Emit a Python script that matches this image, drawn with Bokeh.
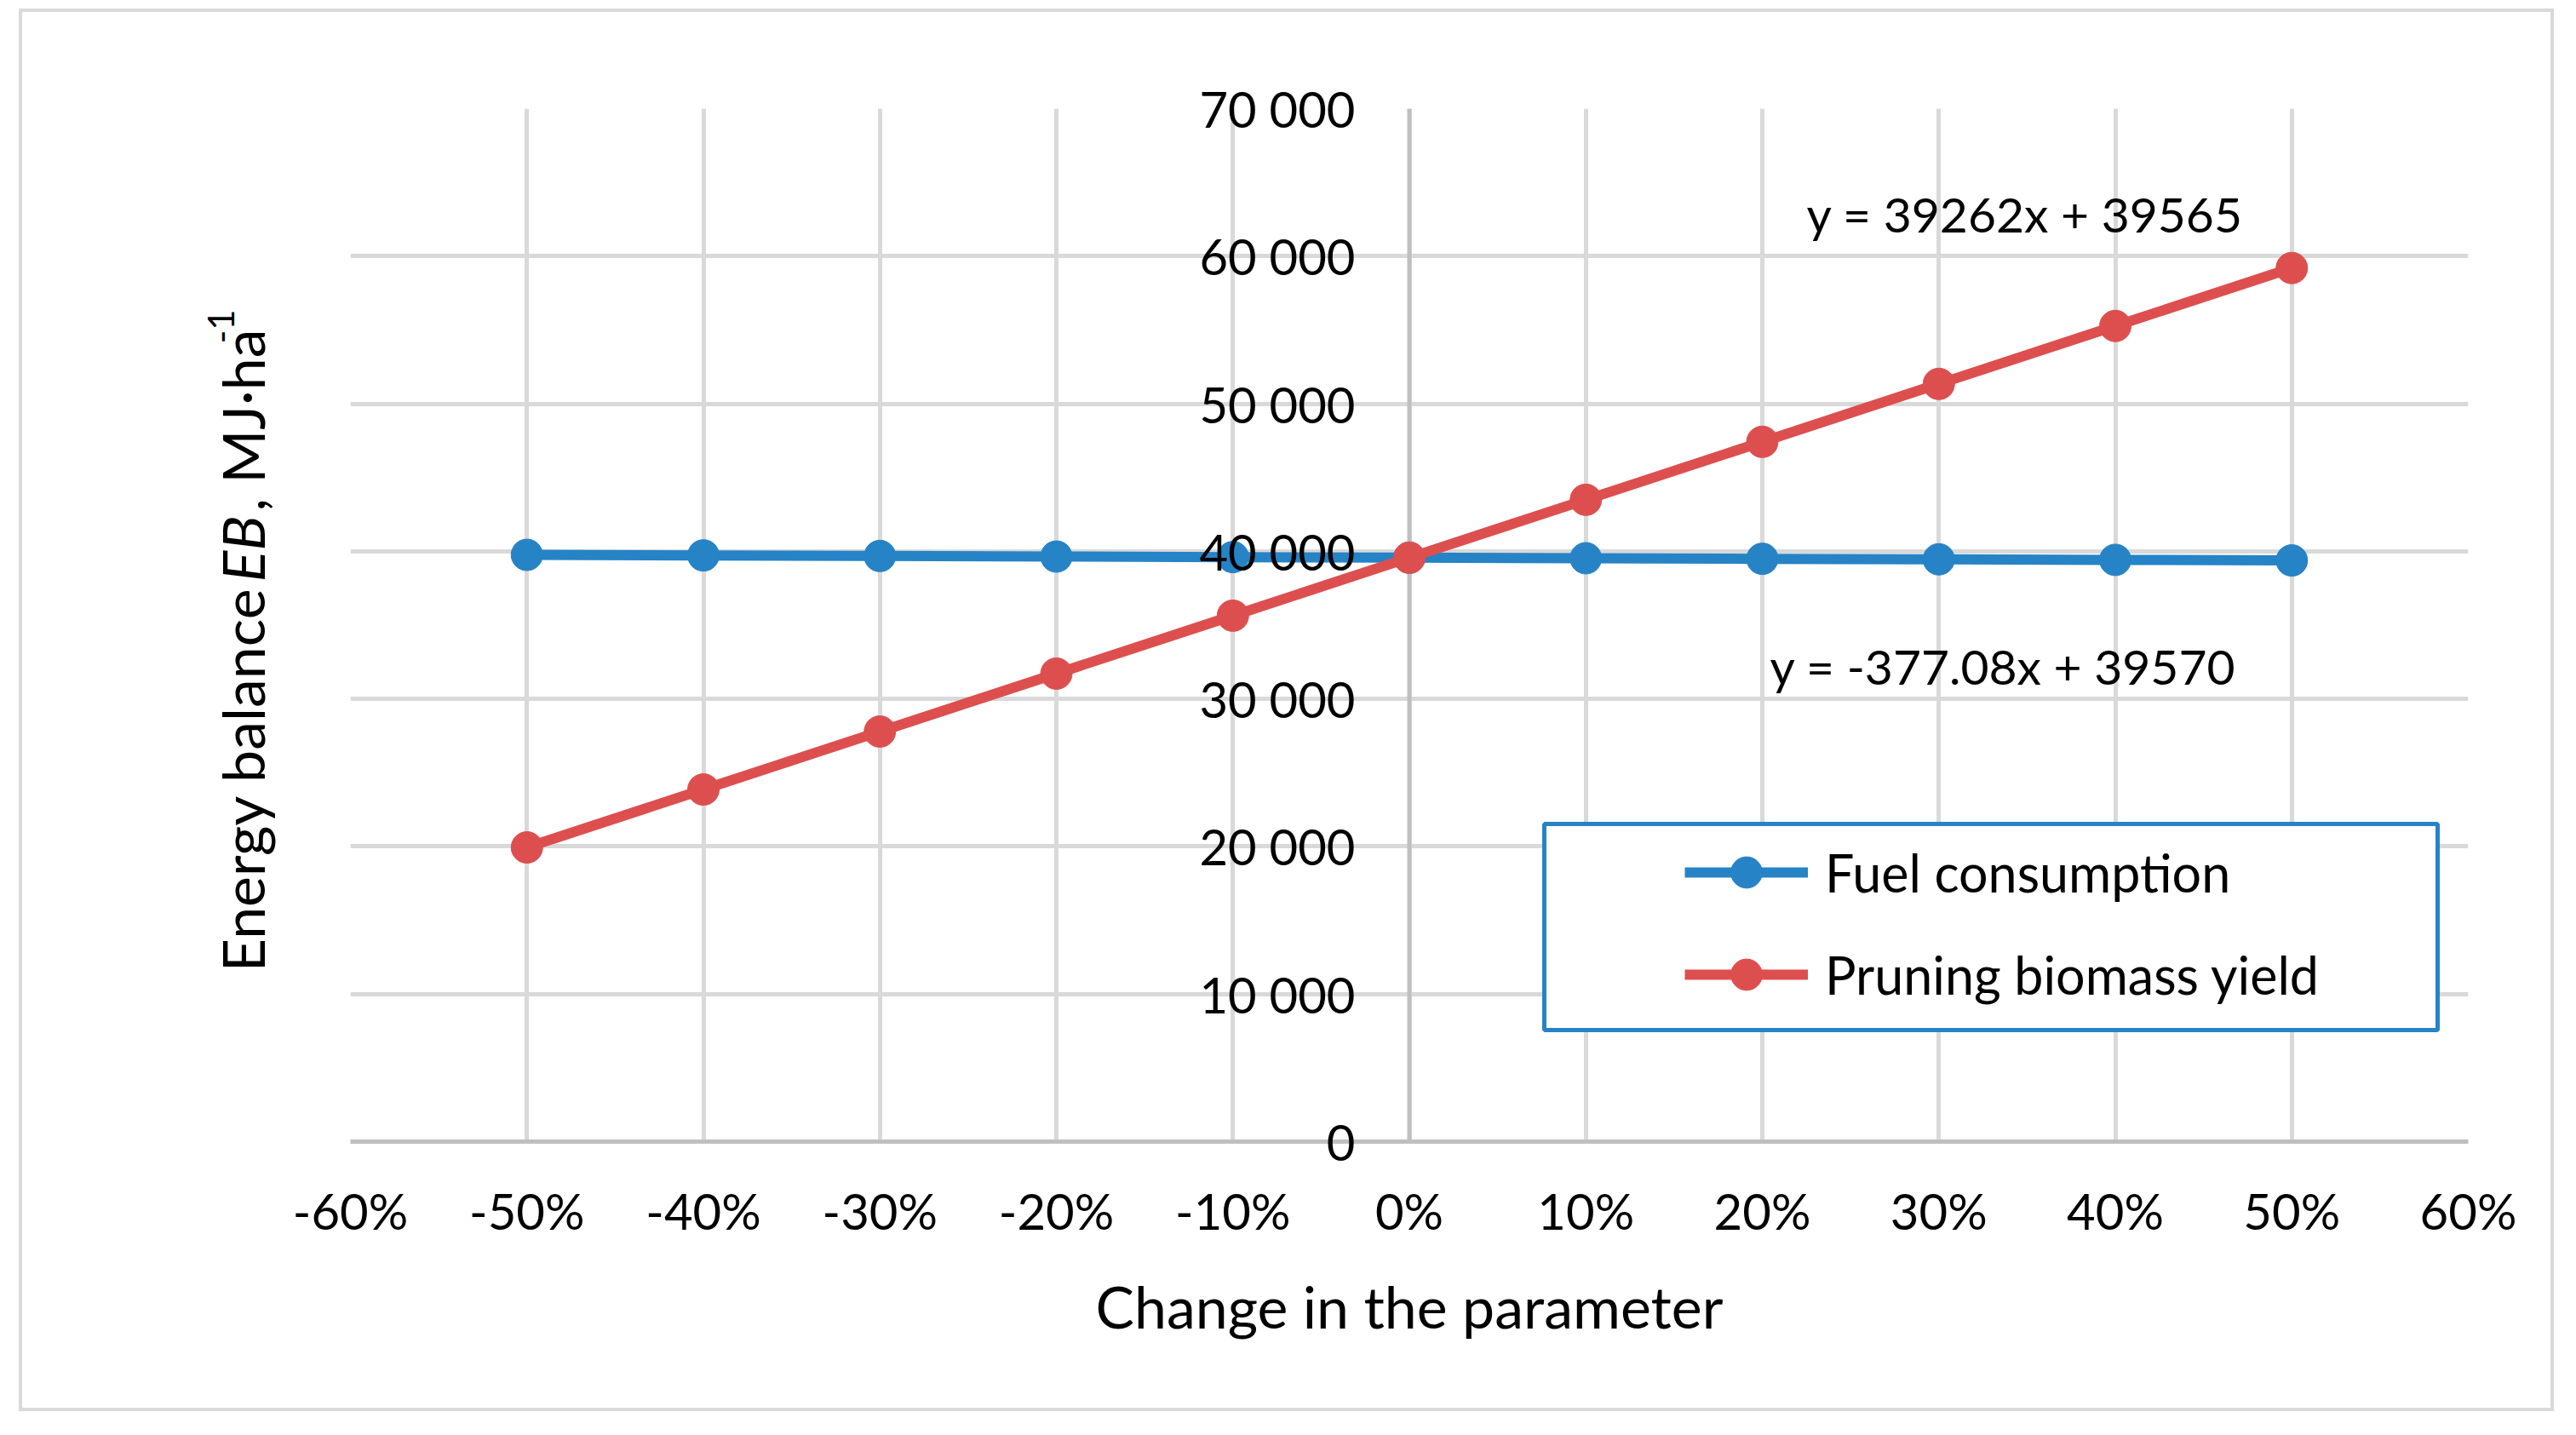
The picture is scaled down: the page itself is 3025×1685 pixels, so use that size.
import math
from bokeh.plotting import figure
from bokeh.models import FixedTicker, Label, BoxAnnotation, Range1d, Span, Spacer
from bokeh.layouts import column, row
from bokeh.embed import file_html
from bokeh.resources import INLINE

# ---------------- data ----------------
change_pct = [-50, -40, -30, -20, -10, 0, 10, 20, 30, 40, 50]
fuel_consumption = [39759, 39721, 39683, 39645, 39608, 39570, 39532, 39494, 39457, 39419, 39381]
pruning_biomass_yield = [19934, 23860, 27786, 31712, 35638, 39565, 43491, 47417, 51343, 55269, 59196]
series_names = ["Fuel consumption", "Pruning biomass yield"]
trend_labels = ["y = -377.08x + 39570", "y = 39262x + 39565"]

x_ticks = [-60, -50, -40, -30, -20, -10, 0, 10, 20, 30, 40, 50, 60]
x_tick_labels = ["-60%", "-50%", "-40%", "-30%", "-20%", "-10%", "0%",
                 "10%", "20%", "30%", "40%", "50%", "60%"]
y_ticks = [0, 10000, 20000, 30000, 40000, 50000, 60000, 70000]
y_tick_labels = ["0", "10 000", "20 000", "30 000", "40 000", "50 000", "60 000", "70 000"]

x_title = "Change in the parameter"
y_title_parts = ["Energy balance ", "EB", ", MJ\u00b7ha", "-1"]

# ---------------- style ----------------
BLUE = "#2683C6"
RED = "#DD4F4F"
GRID = "#D9D9D9"
AXIS = "#BFBFBF"
FONT = "Lato"

X0, X1, Y0, Y1 = -60, 60, 0, 70000
FRAME_W, FRAME_H = 2479, 1205
px_x = FRAME_W / (X1 - X0)   # pixels per x unit
px_y = FRAME_H / (Y1 - Y0)   # pixels per y unit

p = figure(width=2977, height=1647,
           x_range=Range1d(X0, X1), y_range=Range1d(Y0, Y1),
           output_backend="svg", toolbar_location=None,
           min_border_left=385, min_border_right=105,
           min_border_top=113, min_border_bottom=321)
p.styles = {"border": "4px solid #D9D9D9"}
p.outline_line_color = None
p.background_fill_color = "white"
p.border_fill_color = "white"

# grids
p.xgrid.ticker = FixedTicker(ticks=x_ticks)
p.ygrid.ticker = FixedTicker(ticks=y_ticks)
for g in (p.xgrid, p.ygrid):
    g.grid_line_color = GRID
    g.grid_line_width = 5

# axes
for ax in (p.xaxis, p.yaxis):
    ax.axis_line_color = AXIS
    ax.axis_line_width = 5
    ax.major_tick_line_color = None
    ax.minor_tick_line_color = None
    ax.major_tick_out = 0
    ax.major_tick_in = 0
    ax.minor_tick_out = 0
    ax.minor_tick_in = 0
    ax.major_label_text_font = FONT
    ax.major_label_text_font_size = "58px"
    ax.major_label_text_color = "black"

p.xaxis.ticker = FixedTicker(ticks=x_ticks)
p.xaxis.major_label_overrides = dict(zip(x_ticks, x_tick_labels))
p.xaxis.major_label_standoff = 46
p.xaxis.axis_label = x_title
p.xaxis.axis_label_text_font = FONT
p.xaxis.axis_label_text_font_size = "68px"
p.xaxis.axis_label_text_font_style = "normal"
p.xaxis.axis_label_text_color = "black"
p.xaxis.axis_label_standoff = 34

# y axis: labels shown next to the x = 0 line (label right edge 59 px left of it)
p.yaxis.ticker = FixedTicker(ticks=y_ticks)
p.yaxis.major_label_overrides = dict(zip(y_ticks, y_tick_labels))
p.yaxis.axis_line_color = None
p.yaxis.major_label_standoff = -int(round((0 - X0) * px_x - 59))

# vertical axis line at x = 0
p.add_layout(Span(location=0, dimension="height", line_color=AXIS, line_width=5,
                  level="underlay"))

# legend frame
legend_box = BoxAnnotation(left=1402, right=2451, bottom=131, top=373,
                           left_units="screen", right_units="screen",
                           top_units="screen", bottom_units="screen",
                           fill_color="white", fill_alpha=1.0,
                           line_color=BLUE, line_alpha=1.0, line_width=5,
                           level="underlay")
p.add_layout(legend_box)

# series
p.line(change_pct, fuel_consumption, line_color=BLUE, line_width=12,
       legend_label=series_names[0])
p.scatter(change_pct, fuel_consumption, size=37, fill_color=BLUE, line_color=BLUE,
          legend_label=series_names[0])
p.line(change_pct, pruning_biomass_yield, line_color=RED, line_width=12,
       legend_label=series_names[1])
p.scatter(change_pct, pruning_biomass_yield, size=37, fill_color=RED, line_color=RED,
          legend_label=series_names[1])

leg = p.legend[0]
leg.location = (1567, 150)
leg.padding = 0
leg.margin = 0
leg.border_line_color = None
leg.background_fill_alpha = 0
leg.glyph_width = 145
leg.glyph_height = 92
leg.label_height = 92
leg.label_standoff = 20
leg.spacing = 28
leg.label_text_font = FONT
leg.label_text_font_size = "61px"
leg.label_text_color = "black"

# trend line equations
p.add_layout(Label(x=20.43, y=32209, text=trend_labels[0], text_font=FONT,
                   text_font_size="57px", text_color="black",
                   text_align="left", text_baseline="alphabetic"))
p.add_layout(Label(x=22.51, y=62849, text=trend_labels[1], text_font=FONT,
                   text_font_size="57px", text_color="black",
                   text_align="left", text_baseline="alphabetic"))

# y axis title (rotated, composed of styled pieces), placed in the left side panel
base_dx = -1366          # pixels left of x=0 for the baseline
start_dy = 198           # pixels above y=0 for the text start
offsets = [0, 455, 537, 733]
styles = ["normal", "italic", "normal", "normal"]
sizes = ["68px", "68px", "68px", "42px"]
raise_px = [0, 0, 0, 25]
for txt, off, st, sz, rp in zip(y_title_parts, offsets, styles, sizes, raise_px):
    p.add_layout(Label(x=(base_dx - rp) / px_x, y=(start_dy + off) / px_y,
                       text=txt, angle=math.pi / 2, text_font=FONT, text_font_size=sz,
                       text_font_style=st, text_color="black",
                       text_align="left", text_baseline="alphabetic"), "left")

layout = column(Spacer(height=10), row(Spacer(width=22), p))
open("out.html", "w").write(file_html(layout, INLINE))
